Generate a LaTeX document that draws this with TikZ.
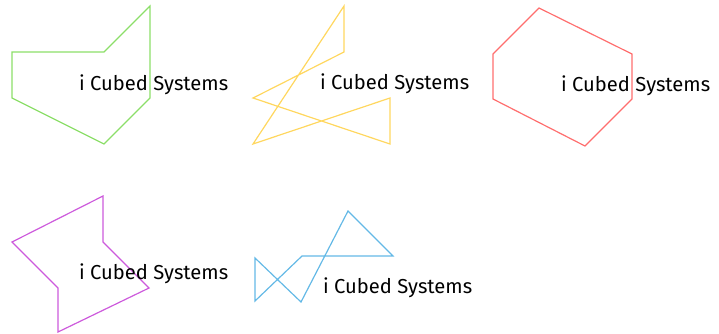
\documentclass[tikz,border=0pt]{standalone}
\usepackage{fontspec}
\setmainfont{Fira Sans}
\usetikzlibrary{positioning}

\definecolor{shgreen}{RGB}{140,222,105}
\definecolor{shyellow}{RGB}{255,215,95}
\definecolor{shred}{RGB}{255,110,110}
\definecolor{shpurple}{RGB}{205,90,220}
\definecolor{shblue}{RGB}{100,185,230}

\tikzset{
  outline/.style={line width=1.2pt, line join=miter},
  brand/.style={anchor=base west, inner sep=0pt, font=\fontsize{20.2}{22}\selectfont}
}

\begin{document}
\begin{tikzpicture}[x=1pt, y=-1pt]
   \useasboundingbox (0,0) rectangle (719,333);

   %green shape
   \coordinate (g0) at (150,6);
   \coordinate (g1) at (104,52);
   \coordinate (g2) at (12,52);
   \coordinate (g3) at (12,98);
   \coordinate (g4) at (104,144);
   \coordinate (g5) at (150,98);

   %yellow shape
   \coordinate (y0) at (344,6);
   \coordinate (y1) at (344,52);
   \coordinate (y2) at (253,98);
   \coordinate (y3) at (390,144);
   \coordinate (y4) at (390,98);
   \coordinate (y5) at (253,144);

   %red shape
   \coordinate (r0) at (539,8);
   \coordinate (r1) at (632,54);
   \coordinate (r2) at (632,99);
   \coordinate (r3) at (585,146);
   \coordinate (r4) at (493,99);
   \coordinate (r5) at (493,54);

   %purple shape
   \coordinate (p0) at (103,196);
   \coordinate (p1) at (103,242);
   \coordinate (p2) at (149,288);
   \coordinate (p3) at (58,332);
   \coordinate (p4) at (58,288);
   \coordinate (p5) at (12,242);

   %blue shape
   \coordinate (b0) at (255,258);
   \coordinate (b1) at (301,302);
   \coordinate (b2) at (348,211);
   \coordinate (b3) at (393,256);
   \coordinate (b4) at (302,256);
   \coordinate (b5) at (255,301);

   \draw[outline, shgreen] (g0) -- (g1) -- (g2) -- (g3) -- (g4) -- (g5) -- cycle;
   \draw[outline, shyellow] (y0) -- (y1) -- (y2) -- (y3) -- (y4) -- (y5) -- cycle;
   \draw[outline, shred] (r0) -- (r1) -- (r2) -- (r3) -- (r4) -- (r5) -- cycle;
   \draw[outline, shpurple] (p0) -- (p1) -- (p2) -- (p3) -- (p4) -- (p5) -- cycle;
   \draw[outline, shblue] (b0) -- (b1) -- (b2) -- (b3) -- (b4) -- (b5) -- cycle;

   %labels
   \node[brand] (tg) at (79,90) {i Cubed Systems};
   \node[brand] (ty) at (320,89) {i Cubed Systems};
   \node[brand] (tr) at (561,91) {i Cubed Systems};
   \node[brand] (tp) at (79,279) {i Cubed Systems};
   \node[brand] (tb) at (323,293) {i Cubed Systems};
\end{tikzpicture}
\end{document}
